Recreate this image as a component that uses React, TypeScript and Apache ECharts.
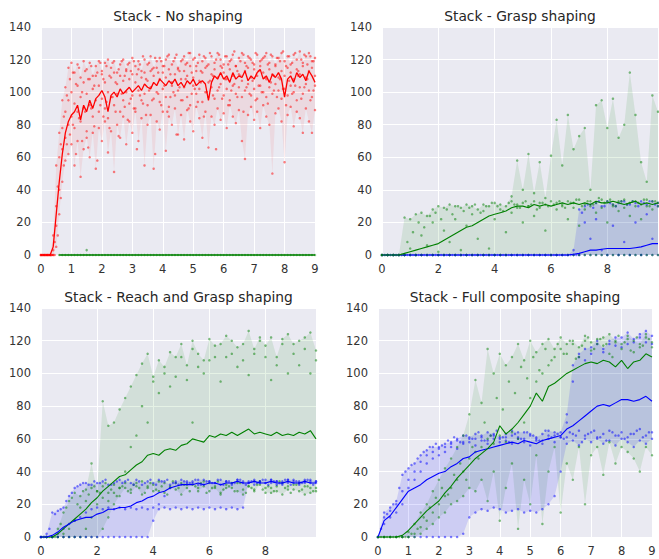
import React, { useEffect, useRef } from "react";
import * as echarts from "echarts";

// ---------- Panel 1: Stack - No shaping (x from 0, step 0.1) ----------
const p1Title = "Stack - No shaping";
const p1X0 = 0;
const p1Step = 0.1;
const p1RedRunA = [
  0, 0, 0, 0, 12, 55, 75, 95, 103, 115,
  118, 112, 117, 109, 119, 114, 118, 110, 116, 119,
  113, 118, 120, 115, 119, 112, 117, 120, 114, 118,
  121, 116, 119, 113, 120, 117, 122, 115, 119, 121,
  116, 120, 123, 117, 121, 114, 119, 122, 118, 124,
  120, 116, 123, 119, 121, 117, 122, 118, 124, 120,
  117, 122, 119, 123, 116, 121, 124, 118, 122, 120,
  117, 123, 119, 121, 124, 118, 122, 116, 121, 124,
  119, 122, 117, 123, 120, 125, 118, 122, 124, 119,
  121,
];
const p1RedRunB = [
  0, 0, 0, 0, 3, 30, 60, 78, 88, 95,
  100, 93, 104, 97, 106, 99, 108, 102, 110, 104,
  111, 106, 100, 109, 112, 105, 110, 107, 113, 108,
  111, 106, 114, 109, 112, 107, 113, 110, 115, 108,
  112, 109, 114, 106, 111, 115, 108, 113, 110, 116,
  109, 113, 107, 112, 115, 106, 111, 114, 109, 116,
  112, 108, 114, 110, 116, 111, 107, 113, 115, 109,
  114, 110, 116, 112, 108, 114, 111, 117, 109, 113,
  110, 115, 112, 108, 114, 111, 116, 109, 113, 115,
  110,
];
const p1RedRunC = [
  0, 0, 0, 0, 0, 18, 40, 65, 72, 80,
  85, 78, 88, 82, 90, 76, 92, 85, 95, 88,
  96, 90, 84, 97, 92, 99, 88, 95, 100, 93,
  98, 90, 101, 95, 99, 92, 103, 96, 100, 94,
  102, 97, 91, 104, 98, 101, 95, 103, 97, 92,
  104, 99, 102, 94, 100, 97, 103, 96, 101, 105,
  98, 102, 95, 104, 99, 103, 97, 101, 105, 98,
  102, 96, 104, 100, 97, 103, 99, 105, 101, 96,
  102, 98, 104, 100, 95, 103, 99, 105, 101, 97,
  104,
];
const p1RedRunD = [
  0, 0, 0, 0, 0, 5, 25, 45, 58, 62,
  68, 55, 70, 48, 65, 72, 60, 75, 53, 78,
  70, 82, 63, 76, 51, 80, 72, 85, 68, 82,
  75, 88, 70, 84, 55, 80, 86, 53, 82, 77,
  88, 64, 85, 80, 90, 74, 86, 71, 89, 82,
  76, 91, 84, 72, 88, 66, 85, 80, 90, 83,
  87, 78, 92, 85, 81, 89, 70, 59, 86, 91,
  83, 88, 78, 92, 85, 80, 50, 87, 90, 82,
  57, 86, 91, 79, 88, 84, 75, 90, 82, 75,
  89,
];
// two more runs sampled half a step later (x from 0.05)
const p1OffsetX0 = 0.05;
const p1RedRunE = [
  0, 0, 0, 0, 8, 42, 68, 85, 98, 108,
  112, 105, 115, 100, 113, 108, 116, 104, 112, 118,
  108, 116, 110, 118, 106, 114, 119, 110, 117, 113,
  119, 111, 117, 122, 108, 118, 114, 121, 112, 119,
  116, 122, 111, 119, 123, 113, 120, 117, 124, 112,
  121, 118, 113, 122, 116, 124, 110, 120, 123, 115,
  122, 117, 120, 125, 113, 119, 123, 116, 121, 118,
  124, 113, 120, 122, 117, 123, 110, 121, 119, 125,
  116, 122, 118, 124, 113, 120, 123, 117, 122, 119,
];
const p1RedRunF = [
  0, 0, 0, 0, 0, 12, 35, 55, 68, 74,
  80, 62, 84, 70, 88, 66, 90, 79, 58, 92,
  85, 94, 78, 97, 88, 73, 99, 91, 83, 96,
  90, 65, 98, 93, 86, 101, 95, 62, 99, 92,
  104, 88, 97, 100, 74, 103, 95, 108, 90, 99,
  102, 94, 106, 85, 100, 107, 98, 65, 103, 96,
  108, 92, 101, 105, 97, 110, 88, 103, 99, 107,
  95, 104, 100, 109, 93, 106, 101, 97, 108, 102,
  92, 107, 99, 104, 110, 96, 103, 108, 95, 101,
];
const p1RedMean = [
  0, 0, 0, 0, 5, 25, 45, 62, 75, 82,
  86, 88, 92, 83, 92, 88, 95, 90, 96, 98,
  101, 97, 88, 98, 100, 97, 102, 99, 101, 103,
  100, 102, 104, 101, 105, 103, 102, 106, 104, 108,
  106, 104, 107, 105, 108, 104, 106, 103, 107, 105,
  108, 104, 106, 107, 105, 95, 106, 110, 108, 112,
  108, 110, 106, 112, 108, 110, 109, 113, 107, 110,
  108, 112, 114, 108, 110, 106, 111, 109, 112, 108,
  97, 108, 110, 106, 112, 109, 111, 107, 113, 110,
  106,
];
// green: flat at zero from x = 0.6 (step 0.1)
const p1GreenX0 = 0.6;
const p1GreenZero = [
  0, 0, 0, 0, 0, 0, 0, 0, 0, 0,
  0, 0, 0, 0, 0, 0, 0, 0, 0, 0,
  0, 0, 0, 0, 0, 0, 0, 0, 0, 0,
  0, 0, 0, 0, 0, 0, 0, 0, 0, 0,
  0, 0, 0, 0, 0, 0, 0, 0, 0, 0,
  0, 0, 0, 0, 0, 0, 0, 0, 0, 0,
  0, 0, 0, 0, 0, 0, 0, 0, 0, 0,
  0, 0, 0, 0, 0, 0, 0, 0, 0, 0,
  0, 0, 0, 0, 0,
];
const p1GreenOutlier = [[1.5, 3]];

// ---------- Panel 2: Stack - Grasp shaping (x from 0, step 0.2) ----------
const p2Title = "Stack - Grasp shaping";
const p2X0 = 0;
const p2Step = 0.2;
const p2GreenRun1 = [
  0, 0, 0, 0, 23, 22, 25, 26, 24, 28,
  30, 29, 31, 30, 29, 31, 30, 28, 31, 30,
  32, 31, 30, 33, 31, 32, 30, 33, 32, 31,
  33, 32, 31, 33, 32, 34, 31, 33, 32, 34,
  33, 31, 33, 34, 32, 33, 31, 34, 33, 32,
];
const p2GreenRun2 = [
  0, 0, 0, 0, 0, 4, 0, 12, 6, 20,
  2, 15, 8, 22, 3, 18, 25, 10, 27, 4,
  22, 28, 14, 26, 29, 20, 30, 24, 29, 15,
  0, 28, 30, 22, 29, 18, 28, 30, 26, 29,
  20, 30, 27, 29, 24, 30, 22, 30, 28, 30,
];
const p2GreenRun3 = [
  0, 0, 0, 0, 0, 0, 0, 0, 0, 0,
  0, 0, 0, 0, 0, 0, 0, 0, 0, 0,
  0, 0, 0, 36, 58, 40, 62, 38, 57, 35,
  61, 83, 55, 86, 65, 73, 78, 40, 92, 95,
  78, 96, 72, 80, 112, 86, 57, 45, 98, 88,
];
const p2GreenRun4 = [
  0, 0, 0, 0, 0, 0, 0, 0, 0, 0,
  0, 0, 0, 0, 0, 0, 0, 0, 0, 0,
  0, 0, 0, 0, 0, 0, 0, 0, 0, 0,
  0, 0, 0, 0, 0, 0, 0, 0, 0, 0,
  0, 0, 0, 0, 0, 0, 0, 0, 0, 0,
];
const p2OffsetX0 = 0.1;
const p2GreenRun5 = [
  0, 0, 0, 0, 8, 14, 20, 17, 24, 26,
  22, 28, 25, 30, 27, 29, 31, 26, 30, 32,
  30, 27, 32, 31, 29, 33, 31, 28, 32, 30,
  31, 33, 29, 32, 34, 30, 33, 31, 35, 32,
  34, 30, 33, 31, 33, 32, 34, 30, 33,
];
const p2GreenMean = [
  0, 0, 0, 0, 1, 2, 3, 4, 5, 6,
  7, 9, 11, 13, 15, 17, 18, 20, 22, 24,
  25, 26, 27, 29, 30, 30, 29, 31, 30, 31,
  30, 31, 32, 31, 32, 31, 32, 31, 33, 32,
  32, 33, 32, 31, 32, 33, 31, 32, 31, 32,
];
const p2BlueRun1 = [
  0, 0, 0, 0, 0, 0, 0, 0, 0, 0,
  0, 0, 0, 0, 0, 0, 0, 0, 0, 0,
  0, 0, 0, 0, 0, 0, 0, 0, 0, 0,
  0, 0, 0, 0, 3, 28, 30, 31, 32, 30,
  33, 31, 32, 33, 31, 32, 33, 31, 33, 32,
];
const p2BlueRun2 = [
  0, 0, 0, 0, 0, 0, 0, 0, 0, 0,
  0, 0, 0, 0, 0, 0, 0, 0, 0, 0,
  0, 0, 0, 0, 0, 0, 0, 0, 0, 0,
  0, 0, 0, 0, 0, 0, 20, 10, 22, 3,
  0, 18, 0, 8, 0, 20, 0, 25, 10, 30,
];
const p2BlueRun3 = [
  0, 0, 0, 0, 0, 0, 0, 0, 0, 0,
  0, 0, 0, 0, 0, 0, 0, 0, 0, 0,
  0, 0, 0, 0, 0, 0, 0, 0, 0, 0,
  0, 0, 0, 0, 0, 0, 0, 0, 0, 0,
  0, 0, 0, 0, 0, 0, 0, 0, 0, 0,
];
const p2BlueRun4 = [
  0, 0, 0, 0, 0, 0, 0, 0, 0, 0,
  0, 0, 0, 0, 0, 0, 0, 0, 0, 0,
  0, 0, 0, 0, 0, 0, 0, 0, 0, 0,
  0, 0, 0, 0, 0, 26, 31, 29, 33, 30,
  32, 30, 33, 31, 33, 30, 32, 33, 31,
];
const p2BlueMean = [
  0, 0, 0, 0, 0, 0, 0, 0, 0, 0,
  0, 0, 0, 0, 0, 0, 0, 0, 0, 0,
  0, 0, 0, 0, 0, 0, 0, 0, 0, 0,
  0, 0, 0, 0, 0.5, 1, 2, 3, 3, 3.5,
  4, 4, 4, 4, 4, 4.5, 5, 6, 7, 7,
];

// ---------- Panel 3: Stack - Reach and Grasp shaping (x from 0, step 0.2) ----------
const p3Title = "Stack - Reach and Grasp shaping";
const p3X0 = 0;
const p3Step = 0.2;
const p3GreenRunA = [
  0, 0, 0, 0, 2, 5, 10, 18, 22, 45,
  28, 83, 68, 70, 78, 85, 92, 99, 106, 112,
  98, 108, 104, 113, 110, 118, 105, 120, 112, 108,
  121, 110, 118, 123, 112, 116, 108, 126, 115, 120,
  110, 122, 105, 118, 124, 112, 120, 115, 125, 108,
];
const p3GreenRunB = [
  0, 0, 0, 5, 15, 22, 27, 25, 29, 30,
  28, 31, 27, 32, 30, 33, 29, 31, 34, 30,
  32, 28, 33, 31, 29, 33, 30, 32, 28, 31,
  33, 30, 27, 32, 30, 33, 29, 31, 28, 32,
  30, 27, 31, 33, 29, 32, 28, 31, 27, 30,
];
const p3GreenRunC = [
  0, 0, 0, 0, 0, 0, 0, 0, 5, 12,
  20, 24, 22, 27, 25, 30, 27, 33, 26, 31,
  28, 34, 27, 30, 33, 26, 32, 70, 30, 34,
  28, 31, 26, 30, 33, 28, 26, 31, 29, 34,
  27, 30, 28, 26, 31, 29, 33, 26, 30, 28,
];
const p3GreenRunD = [
  0, 0, 0, 0, 0, 0, 0, 0, 0, 0,
  0, 5, 12, 20, 30, 40, 55, 62, 80, 70,
  95, 88, 100, 92, 98, 110, 96, 115, 104, 100,
  108, 117, 95, 110, 120, 104, 118, 99, 112, 122,
  117, 96, 110, 121, 100, 118, 105, 122, 100, 114,
];
const p3OffsetX0 = 0.1;
const p3GreenRunE = [
  0, 0, 0, 8, 18, 24, 20, 28, 26, 31,
  27, 33, 29, 25, 31, 28, 32, 30, 27, 33,
  29, 31, 26, 34, 30, 32, 28, 31, 33, 27,
  30, 34, 29, 31, 28, 33, 27, 30, 32, 29,
  31, 28, 34, 30, 27, 32, 29, 31, 28,
];
const p3GreenMean = [
  0, 0, 0, 2, 5, 8, 11, 14, 17, 21,
  24, 28, 31, 34, 37, 38, 41, 44, 46, 50,
  51, 50, 53, 54, 53, 56, 57, 60, 59, 58,
  62, 61, 63, 62, 64, 62, 64, 66, 63, 64,
  63, 62, 64, 62, 63, 62, 64, 63, 65, 60,
];
const p3BlueRunA = [
  0, 2, 15, 16, 18, 25, 30, 32, 33, 32,
  33, 34, 32, 33, 35, 34, 33, 35, 32, 34,
  33, 35, 34, 32, 34, 35, 33, 34, 32, 35,
  34, 33, 35, 34, 32, 35, 34, 33, 35, 34,
  33, 35, 34, 32, 35, 34, 33, 35, 34, 33,
];
const p3BlueRunB = [
  0, 0, 0, 2, 5, 8, 10, 12, 15, 17,
  18, 17, 18, 17, 18, 17, 18, 17, 18, 17,
  18, 17, 18, 17, 18, 17, 18, 17, 18, 17,
  18, 17, 18, 17, 18, 17, 18, 33, 34, 33,
  35, 33, 34, 33, 35, 33, 34, 33, 35, 34,
];
const p3BlueRunC = [
  0, 0, 0, 0, 0, 0, 0, 0, 0, 0,
  0, 0, 0, 0, 0, 0, 0, 0, 0, 0,
  10, 20, 25, 30, 33, 32, 34, 33, 35, 32,
  34, 33, 32, 34, 33, 35, 33, 34, 32, 34,
  33, 35, 32, 34, 33, 35, 32, 34, 33, 34,
];
const p3BlueRunD = [
  0, 5, 14, 17, 22, 27, 31, 33, 32, 34,
  33, 35, 32, 34, 33, 35, 32, 34, 33, 35,
  32, 34, 35, 33, 32, 34, 33, 35, 32, 34,
  33, 35, 32, 34, 33, 35, 32, 34, 33, 35,
  32, 34, 33, 35, 32, 34, 33, 35, 32,
];
const p3BlueMean = [
  0, 0, 1, 3, 6, 8, 10, 11, 12, 12,
  14, 15, 17, 17, 18, 18, 19, 21, 22, 24,
  25, 27, 28, 30, 31, 32, 32, 32, 33, 32,
  33, 33, 32, 33, 33, 34, 33, 33, 34, 33,
  33, 34, 33, 33, 34, 33, 33, 34, 33, 33,
];

// ---------- Panel 4: Stack - Full composite shaping (x from 0, step 0.2) ----------
const p4Title = "Stack - Full composite shaping";
const p4X0 = 0;
const p4Step = 0.2;
const p4BlueRunA = [
  0, 15, 18, 22, 38, 42, 45, 50, 53, 55,
  54, 57, 58, 60, 62, 60, 63, 61, 64, 62,
  60, 63, 65, 61, 64, 62, 60, 63, 65, 62,
  64, 61, 63, 65, 62, 64, 60, 63, 65, 62,
  64, 61, 63, 66, 62, 64,
];
const p4BlueRunB = [
  0, 8, 12, 15, 20, 30, 35, 40, 45, 48,
  50, 52, 55, 54, 57, 58, 56, 59, 57, 60,
  58, 61, 57, 60, 58, 56, 59, 57, 60, 58,
  61, 57, 59, 56, 60, 58, 61, 57, 59, 56,
  60, 58, 55, 59, 57, 60,
];
const p4BlueRunC = [
  0, 0, 0, 0, 0, 0, 0, 0, 0, 0,
  0, 0, 0, 0, 2, 12, 15, 17, 16, 18,
  17, 15, 16, 17, 15, 16, 15, 17, 20, 25,
  40, 75, 95, 110, 115, 112, 118, 115, 120, 117,
  122, 118, 121, 124, 119, 123,
];
const p4BlueRunD = [
  0, 12, 16, 20, 28, 35, 40, 46, 50, 52,
  55, 55, 57, 59, 58, 61, 60, 62, 59, 63,
  61, 59, 62, 64, 60, 63, 61, 59, 62, 64,
  61, 70, 105, 112, 108, 116, 120, 113, 118, 122,
  116, 125, 119, 122, 126, 118,
];
const p4OffsetX0 = 0.1;
const p4BlueRunE = [
  5, 14, 20, 30, 40, 44, 48, 52, 55, 57,
  56, 59, 61, 58, 62, 60, 64, 59, 62, 65,
  61, 58, 63, 60, 64, 62, 59, 65, 61, 63,
  60, 64, 62, 58, 63, 65, 61, 59, 64, 62,
  60, 63, 65, 61, 64,
];
const p4BlueMean = [
  0, 10, 13, 18, 23, 28, 30, 32, 35, 37,
  39, 40, 43, 45, 48, 49, 52, 53, 54, 55,
  56, 57, 58, 57, 59, 58, 57, 59, 60, 61,
  62, 66, 68, 71, 74, 77, 80, 81, 80, 82,
  84, 84, 83, 84, 86, 83,
];
const p4GreenRunA = [
  0, 0, 0, 0, 0, 3, 8, 15, 20, 28,
  35, 42, 48, 55, 62, 75, 96, 82, 115, 100,
  112, 105, 110, 118, 108, 120, 113, 118, 121, 115,
  122, 118, 120, 116, 123, 119, 121, 117, 124, 120,
  118, 123, 120, 116, 122, 119,
];
const p4GreenRunB = [
  0, 0, 0, 0, 0, 0, 2, 6, 10, 15,
  20, 25, 30, 35, 40, 48, 52, 55, 60, 57,
  62, 58, 64, 60, 70, 85, 95, 100, 105, 110,
  115, 112, 118, 110, 120, 114, 118, 122, 112, 119,
  115, 121, 113, 118, 124, 116,
];
const p4GreenRunC = [
  0, 0, 0, 0, 0, 0, 0, 2, 5, 8,
  12, 15, 20, 22, 25, 30, 28, 35, 22, 40,
  10, 30, 45, 5, 35, 20, 50, 8, 40, 55,
  15, 45, 35, 55, 20, 50, 55, 38, 58, 45,
  55, 52, 48, 40, 55, 50,
];
const p4GreenRunD = [
  0, 0, 0, 0, 0, 2, 5, 12, 18, 24,
  30, 26, 38, 45, 35, 55, 48, 70, 62, 85,
  78, 95, 88, 104, 97, 110, 102, 115, 108, 118,
  112, 120, 109, 117, 122, 115, 121, 118, 110, 123,
  119, 114, 122, 117, 121,
];
const p4GreenMean = [
  0, 0, 0, 0, 1, 4, 8, 12, 16, 19,
  22, 27, 31, 36, 40, 44, 48, 51, 54, 58,
  68, 63, 66, 70, 75, 80, 88, 83, 92, 94,
  97, 100, 102, 104, 106, 107, 106, 108, 107, 104,
  108, 103, 107, 108, 112, 110,
];

// ---------- axes ----------
const yTicks = [0, 20, 40, 60, 80, 100, 120, 140];
const xMaxShort = 9;
const xMaxLong = 9.8;

const RED = "#ff0000";
const GREEN = "#008000";
const BLUE = "#0000ff";
const FONT = '"DejaVu Sans", "Noto Sans", sans-serif';

function toPts(x0: number, step: number, arr: number[]) {
  return arr.map((v, i) => [Math.round((x0 + i * step) * 1000) / 1000, v]);
}

function envelope(runs: number[][]) {
  const n = runs[0].length;
  const lower: number[] = [];
  const upper: number[] = [];
  for (let i = 0; i < n; i++) {
    const vals = runs.map((r) => r[i]);
    lower.push(Math.min(...vals));
    upper.push(Math.max(...vals));
  }
  return { lower, upper };
}

function bandSeries(g: number, x0: number, step: number, runs: number[][], fill: string) {
  const { lower, upper } = envelope(runs);
  return {
    type: "custom",
    xAxisIndex: g,
    yAxisIndex: g,
    data: [[x0, 0]],
    silent: true,
    z: 1,
    renderItem: (_params: any, api: any) => {
      const pts: number[][] = [];
      for (let i = 0; i < upper.length; i++) pts.push(api.coord([x0 + i * step, upper[i]]));
      for (let i = lower.length - 1; i >= 0; i--) pts.push(api.coord([x0 + i * step, lower[i]]));
      return {
        type: "polygon",
        shape: { points: pts },
        style: { fill, stroke: null },
      };
    },
  };
}

type RunGroup = { x0: number; runs: number[][] };

function scatterSeries(g: number, step: number, groups: RunGroup[], color: string, extra: number[][] = []) {
  const data: number[][] = [];
  groups.forEach((grp) =>
    grp.runs.forEach((r) => toPts(grp.x0, step, r).forEach((p) => data.push(p)))
  );
  extra.forEach((p) => data.push(p));
  return {
    type: "scatter",
    xAxisIndex: g,
    yAxisIndex: g,
    data,
    symbol: "circle",
    symbolSize: 2.5,
    itemStyle: { color, opacity: 0.5 },
    silent: true,
    clip: false,
    z: 2,
  };
}

function lineSeries(g: number, x0: number, step: number, arr: number[], color: string, width = 1.1) {
  return {
    type: "line",
    xAxisIndex: g,
    yAxisIndex: g,
    data: toPts(x0, step, arr),
    showSymbol: false,
    symbol: "none",
    lineStyle: { color, width },
    silent: true,
    clip: false,
    z: 3,
  };
}

const grids = [
  { left: 41, top: 27, width: 274, height: 228 },
  { left: 382, top: 27, width: 276, height: 228 },
  { left: 41, top: 308, width: 275, height: 229 },
  { left: 378, top: 308, width: 274, height: 229 },
];

export default function App() {
  const ref = useRef<HTMLDivElement>(null);
  useEffect(() => {
    if (!ref.current) return;
    const chart = echarts.init(ref.current, undefined, { renderer: "svg" });

    const xAxes = [xMaxShort, xMaxLong, xMaxLong, xMaxShort].map((mx, g) => ({
      type: "value",
      gridIndex: g,
      min: 0,
      max: mx,
      interval: mx === xMaxShort ? 1 : 2,
      axisLine: { show: false },
      axisTick: { show: false },
      splitLine: { show: true, lineStyle: { color: "#ffffff", width: 1 } },
      axisLabel: {
        color: "#333333",
        fontSize: 11.5,
        fontFamily: FONT,
        margin: 8,
        showMaxLabel: mx === xMaxShort,
        formatter: (v: number) =>
          mx === xMaxShort ? String(v) : Math.abs(v % 2) < 1e-9 ? String(v) : "",
      },
    }));
    const yAxes = [0, 1, 2, 3].map((g) => ({
      type: "value",
      gridIndex: g,
      min: yTicks[0],
      max: yTicks[yTicks.length - 1],
      interval: yTicks[1] - yTicks[0],
      axisLine: { show: false },
      axisTick: { show: false },
      splitLine: { show: true, lineStyle: { color: "#ffffff", width: 1 } },
      axisLabel: { color: "#333333", fontSize: 11.5, fontFamily: FONT, margin: 10 },
    }));

    const p1Red = [p1RedRunA, p1RedRunB, p1RedRunC, p1RedRunD];
    const p2Green = [p2GreenRun1, p2GreenRun2, p2GreenRun3, p2GreenRun4];
    const p2Blue = [p2BlueRun1, p2BlueRun2, p2BlueRun3];
    const p3Green = [p3GreenRunA, p3GreenRunB, p3GreenRunC, p3GreenRunD];
    const p3Blue = [p3BlueRunA, p3BlueRunB, p3BlueRunC];
    const p4Green = [p4GreenRunA, p4GreenRunB, p4GreenRunC];
    const p4Blue = [p4BlueRunA, p4BlueRunB, p4BlueRunC, p4BlueRunD];

    const redFill = "rgba(255,0,0,0.07)";
    const greenFill = "rgba(0,128,0,0.1)";
    const blueFill = "rgba(0,0,255,0.12)";

    const series: any[] = [
      // panel 1
      bandSeries(0, p1X0, p1Step, p1Red, redFill),
      scatterSeries(0, p1Step, [
        { x0: p1X0, runs: p1Red },
        { x0: p1OffsetX0, runs: [p1RedRunE, p1RedRunF] },
      ], RED),
      lineSeries(0, p1X0, p1Step, p1RedMean, RED, 1.3),
      scatterSeries(0, p1Step, [{ x0: p1GreenX0, runs: [p1GreenZero] }], GREEN, p1GreenOutlier),
      lineSeries(0, p1GreenX0, p1Step, p1GreenZero, GREEN, 1.6),
      // panel 2
      bandSeries(1, p2X0, p2Step, p2Green, greenFill),
      bandSeries(1, p2X0, p2Step, p2Blue, blueFill),
      scatterSeries(1, p2Step, [
        { x0: p2X0, runs: p2Blue },
        { x0: p2OffsetX0, runs: [p2BlueRun4] },
      ], BLUE),
      lineSeries(1, p2X0, p2Step, p2BlueMean, BLUE),
      scatterSeries(1, p2Step, [
        { x0: p2X0, runs: p2Green },
        { x0: p2OffsetX0, runs: [p2GreenRun5] },
      ], GREEN),
      lineSeries(1, p2X0, p2Step, p2GreenMean, GREEN),
      // panel 3
      bandSeries(2, p3X0, p3Step, p3Green, greenFill),
      bandSeries(2, p3X0, p3Step, p3Blue, blueFill),
      scatterSeries(2, p3Step, [
        { x0: p3X0, runs: p3Green },
        { x0: p3OffsetX0, runs: [p3GreenRunE] },
      ], GREEN),
      scatterSeries(2, p3Step, [
        { x0: p3X0, runs: p3Blue },
        { x0: p3OffsetX0, runs: [p3BlueRunD] },
      ], BLUE),
      lineSeries(2, p3X0, p3Step, p3GreenMean, GREEN),
      lineSeries(2, p3X0, p3Step, p3BlueMean, BLUE),
      // panel 4
      bandSeries(3, p4X0, p4Step, p4Green, greenFill),
      bandSeries(3, p4X0, p4Step, p4Blue, blueFill),
      scatterSeries(3, p4Step, [
        { x0: p4X0, runs: p4Blue },
        { x0: p4OffsetX0, runs: [p4BlueRunE] },
      ], BLUE),
      scatterSeries(3, p4Step, [
        { x0: p4X0, runs: p4Green },
        { x0: p4OffsetX0, runs: [p4GreenRunD] },
      ], GREEN),
      lineSeries(3, p4X0, p4Step, p4BlueMean, BLUE),
      lineSeries(3, p4X0, p4Step, p4GreenMean, GREEN),
    ];

    const titles = [p1Title, p2Title, p3Title, p4Title];
    const graphic = titles.map((t, g) => ({
      type: "text",
      x: grids[g].left + grids[g].width / 2,
      y: g < 2 ? 16 : 297,
      style: {
        text: t,
        fill: "#262626",
        font: `13.8px ${FONT}`,
        textAlign: "center",
        textVerticalAlign: "middle",
        align: "center",
        verticalAlign: "middle",
      },
    }));

    chart.setOption({
      animation: false,
      backgroundColor: "#ffffff",
      textStyle: { fontFamily: FONT },
      grid: grids.map((g) => ({ ...g, show: true, backgroundColor: "#EAEAF2", borderWidth: 0 })),
      xAxis: xAxes,
      yAxis: yAxes,
      series,
      graphic,
    });
    return () => chart.dispose();
  }, []);
  return (
    <div
      ref={ref}
      style={{ position: "absolute", left: 0, top: 0, width: 659, height: 559 }}
    />
  );
}
